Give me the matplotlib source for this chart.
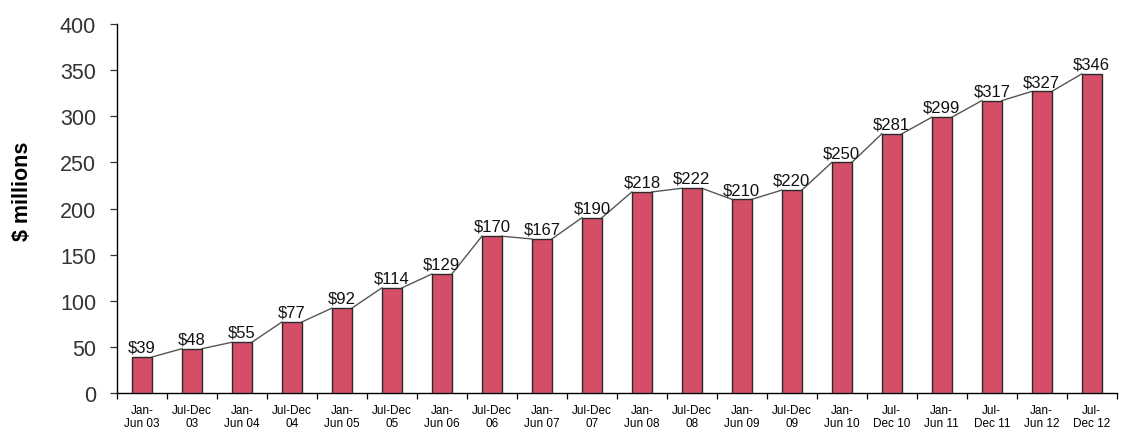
import numpy as np
import matplotlib.pyplot as plt

plt.rcParams['font.family'] = ['Liberation Sans', 'DejaVu Sans']

periods = ["Jan-\nJun 03", "Jul-Dec\n03", "Jan-\nJun 04", "Jul-Dec\n04",
           "Jan-\nJun 05", "Jul-Dec\n05", "Jan-\nJun 06", "Jul-Dec\n06",
           "Jan-\nJun 07", "Jul-Dec\n07", "Jan-\nJun 08", "Jul-Dec\n08",
           "Jan-\nJun 09", "Jul-Dec\n09", "Jan-\nJun 10", "Jul-\nDec 10",
           "Jan-\nJun 11", "Jul-\nDec 11", "Jan-\nJun 12", "Jul-\nDec 12"]
revenue = [39, 48, 55, 77, 92, 114, 129, 170, 167, 190,
           218, 222, 210, 220, 250, 281, 299, 317, 327, 346]

x = np.arange(len(revenue))
w = 0.4

fig = plt.figure(figsize=(11.31, 4.35), dpi=100)
ax = fig.add_axes([0.1034, 0.0943, 0.884, 0.848])

ax.bar(x, revenue, width=w, color="#D44E68", edgecolor="#2a2a2a", linewidth=1.0, zorder=3)

# series lines joining bar tops corner to corner
for i in range(len(revenue) - 1):
    ax.plot([x[i] + w / 2, x[i + 1] - w / 2], [revenue[i], revenue[i + 1]],
            color="#555555", linewidth=1.0, zorder=2)

for xi, v in zip(x, revenue):
    ax.text(xi, v + 2.5, "$%d" % v, ha="center", va="bottom", fontsize=12, color="#111111")

ax.set_xlim(-0.5, len(revenue) - 0.5)
ax.set_ylim(0, 400)
ax.set_yticks(range(0, 401, 50))
ax.tick_params(axis="y", labelsize=15.5, length=5, width=0.9, colors="#333333", pad=10)

ax.set_xticks(x)
ax.set_xticklabels(periods, fontsize=8.5, linespacing=1.15)
ax.set_xticks(np.arange(-0.5, len(revenue), 1), minor=True)
ax.tick_params(axis="x", which="major", length=0, pad=8)
ax.tick_params(axis="x", which="minor", length=4, width=0.9)

for s in ["top", "right"]:
    ax.spines[s].set_visible(False)
ax.spines["left"].set_linewidth(1.0)
ax.spines["bottom"].set_linewidth(1.0)

ax.set_ylabel("$ millions", fontsize=15.5, fontweight="bold")
ax.yaxis.set_label_coords(-0.084, 0.55)

fig.savefig("out.png", dpi=100)
